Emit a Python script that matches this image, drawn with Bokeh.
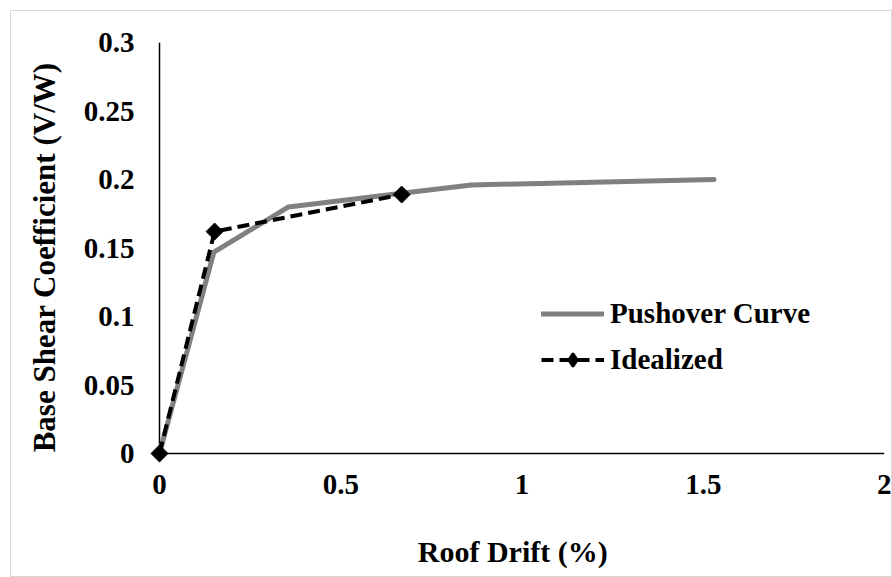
import math
from bokeh.plotting import figure
from bokeh.models import FixedTicker, Range1d, Legend, LegendItem
from bokeh.embed import file_html
from bokeh.resources import INLINE

# ---- data ----
pushover_drift = [0.0, 0.05, 0.10, 0.15, 0.356, 0.668, 0.86, 1.2, 1.53]
pushover_shear = [0.0, 0.049, 0.098, 0.147, 0.180, 0.190, 0.196, 0.198, 0.200]

ideal_drift = [0.0, 0.152, 0.668]
ideal_shear = [0.0, 0.162, 0.189]

x_ticks = [0, 0.5, 1, 1.5, 2]
x_tick_labels = ["0", "0.5", "1", "1.5", "2"]
y_ticks = [0, 0.05, 0.1, 0.15, 0.2, 0.25, 0.3]
y_tick_labels = ["0", "0.05", "0.1", "0.15", "0.2", "0.25", "0.3"]

FONT = "Liberation Serif"
FS = "29px"

# pixel scale: 362.5 px per x unit, 1370 px per y unit; pad a little so markers at origin are not clipped
x_pad = 11 / 362.5
y_pad = 11 / 1370.0

p = figure(
    width=882, height=567,
    x_range=Range1d(-x_pad, 2.0),
    y_range=Range1d(-y_pad, 0.3),
    output_backend="svg", toolbar_location=None,
    min_border_left=137, min_border_right=9, min_border_top=31, min_border_bottom=114,
    margin=(10, 0, 0, 10),
    styles={"border": "1px solid #d9d9d9"},
)
p.outline_line_color = None
p.grid.visible = False
p.background_fill_color = "white"
p.border_fill_color = "white"

for ax in (p.xaxis[0], p.yaxis[0]):
    ax.axis_line_color = None
    ax.major_tick_line_color = None
    ax.minor_tick_line_color = None
    ax.major_tick_out = 0
    ax.major_tick_in = 0
    ax.major_label_text_font = FONT
    ax.major_label_text_font_style = "bold"
    ax.major_label_text_font_size = FS
    ax.major_label_text_color = "black"
    ax.axis_label_text_font = FONT
    ax.axis_label_text_font_style = "bold"
    ax.axis_label_text_color = "black"

p.xaxis.axis_label_text_font_size = "30px"
p.yaxis.axis_label_text_font_size = "31px"

p.xaxis.ticker = FixedTicker(ticks=x_ticks)
p.xaxis.major_label_overrides = {t: l for t, l in zip(x_ticks, x_tick_labels)}
p.yaxis.ticker = FixedTicker(ticks=y_ticks)
p.yaxis.major_label_overrides = {t: l for t, l in zip(y_ticks, y_tick_labels)}
p.xaxis.major_label_standoff = 10
p.yaxis.major_label_standoff = 14
p.xaxis.axis_label = "Roof Drift  (%)"
p.yaxis.axis_label = "Base Shear Coefficient  (V/W)"
p.xaxis.axis_label_standoff = 38
p.yaxis.axis_label_standoff = 19

# axis lines meeting at the origin
p.segment(x0=[0, 0], y0=[0, 0], x1=[x_ticks[-1], 0], y1=[0, y_ticks[-1]],
          line_color="black", line_width=1.5)

r_push = p.line(pushover_drift, pushover_shear, line_color="#808080", line_width=5,
                line_cap="round", line_join="round")
r_ideal_line = p.line(ideal_drift, ideal_shear, line_color="black", line_width=4,
                      line_dash="12 6")
# diamond used for the legend symbol (zero size on the plot itself)
r_ideal_leg = p.scatter(ideal_drift, ideal_shear, marker="diamond", size=0,
                        fill_color="black", line_color="black", line_width=2.5)
r_ideal_pts = p.scatter(ideal_drift, ideal_shear, marker="square", angle=math.pi / 4,
                        size=12, fill_color="black", line_color="black")

legend = Legend(items=[
    LegendItem(label="Pushover Curve", renderers=[r_push]),
    LegendItem(label="Idealized", renderers=[r_ideal_line, r_ideal_leg]),
])
legend.location = (393, 88)
legend.glyph_width = 63
legend.glyph_height = 33
legend.label_height = 33
legend.spacing = 13
legend.label_standoff = 6
legend.padding = 0
legend.margin = 0
legend.border_line_color = None
legend.background_fill_alpha = 0
legend.label_text_font = FONT
legend.label_text_font_style = "bold"
legend.label_text_font_size = FS
legend.label_text_color = "black"
p.add_layout(legend, "center")

open("out.html", "w").write(file_html(p, INLINE))
